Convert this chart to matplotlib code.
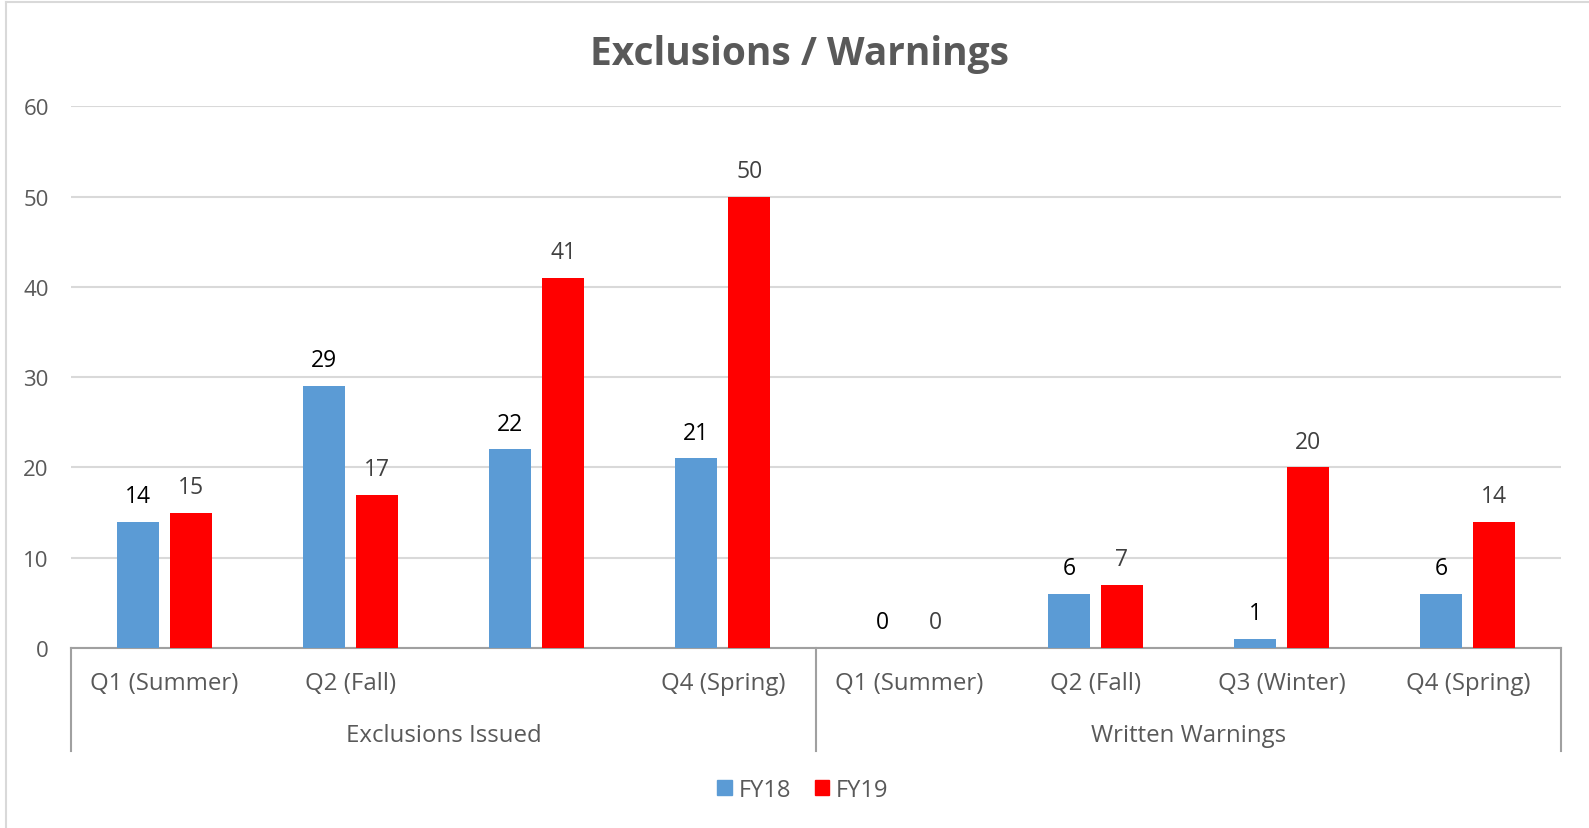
import numpy as np
import matplotlib.pyplot as plt
import matplotlib.transforms as mtransforms
from matplotlib.lines import Line2D
from matplotlib.patches import Patch

plt.rcParams["font.family"] = ["Open Sans", "DejaVu Sans"]

groups = ["Exclusions Issued", "Written Warnings"]
quarters = ["Q1 (Summer)", "Q2 (Fall)", "", "Q4 (Spring)",
            "Q1 (Summer)", "Q2 (Fall)", "Q3 (Winter)", "Q4 (Spring)"]
fy18 = [14, 29, 22, 21, 0, 6, 1, 6]
fy19 = [15, 17, 41, 50, 0, 7, 20, 14]

c18 = "#5B9BD5"
c19 = "#FF0000"
txt = "#595959"

fig = plt.figure(figsize=(15.89, 8.29), dpi=100)
ax = fig.add_axes([71 / 1589, 1 - 649 / 829, 1490 / 1589, (649 - 107.4) / 829])

x = np.arange(len(quarters))
w = 0.225
off = 0.142
b18 = ax.bar(x - off, fy18, w, color=c18, zorder=3)
b19 = ax.bar(x + off, fy19, w, color=c19, zorder=3)

for rect, v in zip(b18, fy18):
    ax.annotate(str(v), (rect.get_x() + rect.get_width() / 2, v),
                xytext=(0, 10), textcoords="offset points",
                ha="center", va="bottom", fontsize=16.5, color="black")
for rect, v in zip(b19, fy19):
    ax.annotate(str(v), (rect.get_x() + rect.get_width() / 2, v),
                xytext=(0, 10), textcoords="offset points",
                ha="center", va="bottom", fontsize=16.5, color="#404040")

ax.set_xlim(-0.5, len(quarters) - 0.5)
ax.set_ylim(0, 60)
ax.set_yticks(range(0, 61, 10))
ax.tick_params(axis="y", length=0, pad=16, labelsize=16, labelcolor=txt)
ax.set_xticks([])
ax.grid(axis="y", color="#D9D9D9", linewidth=1.5, zorder=0)
for s in ["top", "right", "left"]:
    ax.spines[s].set_visible(False)
ax.spines["bottom"].set_color("#A0A0A0")
ax.spines["bottom"].set_linewidth(1.5)

trans = mtransforms.blended_transform_factory(ax.transData, ax.transAxes)
for i, q in enumerate(quarters):
    ax.text(i, -0.0646, q, transform=trans, ha="center", va="center",
            fontsize=17.3, color=txt)
for g, gi in enumerate(groups):
    ax.text(g * 4 + 1.5, -0.161, gi, transform=trans, ha="center", va="center",
            fontsize=17.3, color=txt)
for xs in [-0.5, 3.5, 7.5]:
    ax.add_line(Line2D([xs, xs], [0, -0.19], transform=trans, color="#A0A0A0",
                       linewidth=1.5, clip_on=False))

fig.text(799 / 1589, 1 - 54 / 829, "Exclusions / Warnings", ha="center", va="center",
         fontsize=28, fontweight="bold", color=txt)

handles = [Patch(color=c18), Patch(color=c19)]
fig.legend(handles, ["FY18", "FY19"], loc="center", bbox_to_anchor=(803 / 1589, 1 - 791 / 829),
           ncol=2, frameon=False, fontsize=17, labelcolor=txt,
           handlelength=0.6, handleheight=0.6, handletextpad=0.3, columnspacing=1.0)

# outer chart border (top and left edges visible)
fig.add_artist(Line2D([6 / 1589, 6 / 1589], [0, 1 - 3 / 829], transform=fig.transFigure,
                      color="#D9D9D9", linewidth=1.5))
fig.add_artist(Line2D([6 / 1589, 1], [1 - 3 / 829, 1 - 3 / 829], transform=fig.transFigure,
                      color="#D9D9D9", linewidth=1.5))

fig.savefig("out.png", dpi=100)
